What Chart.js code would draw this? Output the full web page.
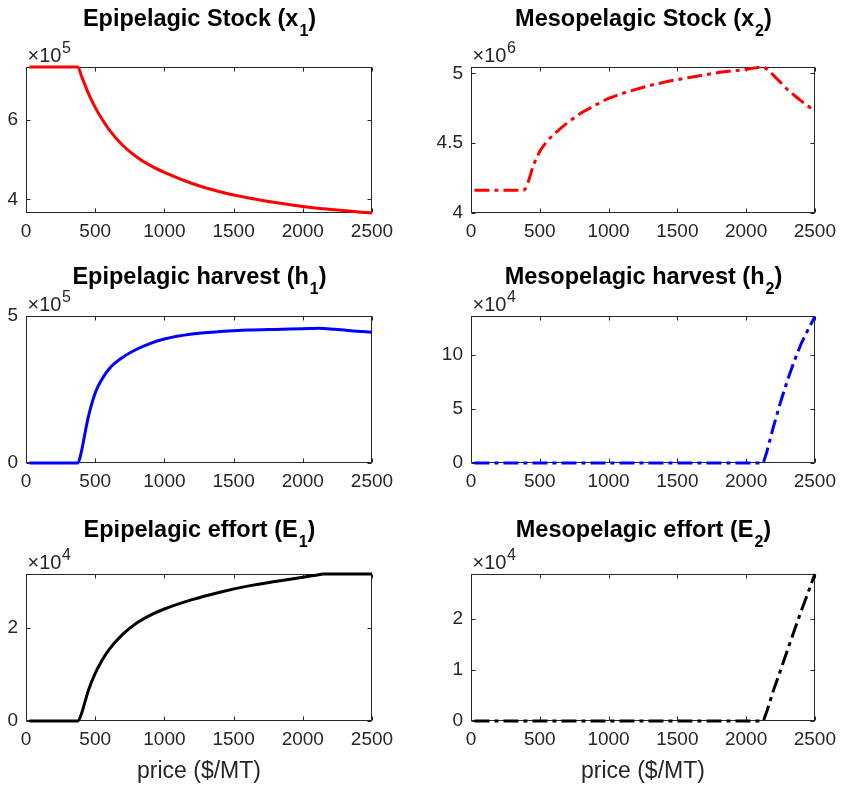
<!DOCTYPE html>
<html>
<head>
<meta charset="utf-8">
<title>Stocks, harvests and efforts vs price</title>
<script src="https://cdn.jsdelivr.net/npm/chart.js@4.4.1/dist/chart.umd.min.js"></script>
<style>
  body { margin: 0; background: #fff; }
  #fig { position: relative; width: 843px; height: 787px; background: #fff; }
  #fig canvas { position: absolute; }
</style>
</head>
<body>
<div id="fig"></div>
<script>
// price grid ($/MT)
const prices = [25, 100, 200, 300, 375, 400, 425, 450, 500, 550, 600, 700, 800, 900, 1000,
                1200, 1400, 1600, 1800, 2000, 2125, 2150, 2200, 2250, 2300, 2350, 2400, 2450, 2500];

// values, in units of each panel's multiplier
const stockEpi = [7.34, 7.34, 7.34, 7.34, 7.34, 7.12, 6.9, 6.68, 6.32, 6.02, 5.76, 5.36, 5.07, 4.85, 4.68,
                  4.4, 4.19, 4.04, 3.92, 3.82, 3.77, 3.762, 3.745, 3.73, 3.715, 3.7, 3.683, 3.67, 3.655]; // x10^5
const stockMeso = [4.162, 4.162, 4.162, 4.162, 4.162, 4.18, 4.25, 4.33, 4.44, 4.51, 4.56, 4.645, 4.715, 4.77, 4.82,
                   4.885, 4.935, 4.972, 5.005, 5.028, 5.045, 5.03, 4.985, 4.935, 4.885, 4.843, 4.803, 4.766, 4.73]; // x10^6
const harvestEpi = [0, 0, 0, 0, 0, 0.38, 0.98, 1.56, 2.38, 2.86, 3.2, 3.6, 3.87, 4.07, 4.22,
                    4.39, 4.47, 4.52, 4.545, 4.565, 4.58, 4.575, 4.56, 4.54, 4.52, 4.5, 4.48, 4.465, 4.45]; // x10^5
const harvestMeso = [0, 0, 0, 0, 0, 0, 0, 0, 0, 0, 0, 0, 0, 0, 0,
                     0, 0, 0, 0, 0, 0, 1.0, 3.4, 5.6, 7.6, 9.4, 11.0, 12.3, 13.5]; // x10^4
const effortEpi = [0, 0, 0, 0, 0, 0.15, 0.4, 0.65, 1.02, 1.3, 1.53, 1.86, 2.1, 2.27, 2.4,
                   2.6, 2.76, 2.89, 2.99, 3.08, 3.14, 3.15, 3.15, 3.15, 3.15, 3.15, 3.15, 3.15, 3.15]; // x10^4
const effortMeso = [0, 0, 0, 0, 0, 0, 0, 0, 0, 0, 0, 0, 0, 0, 0,
                    0, 0, 0, 0, 0, 0, 0.18, 0.61, 0.99, 1.38, 1.77, 2.15, 2.51, 2.88]; // x10^4

const xTicks = [0, 500, 1000, 1500, 2000, 2500];
const yTicksStockEpi = [4, 6];
const yTicksStockMeso = [4, 4.5, 5];
const yTicksHarvestEpi = [0, 5];
const yTicksHarvestMeso = [0, 5, 10];
const yTicksEffortEpi = [0, 2];
const yTicksEffortMeso = [0, 1, 2];

const FONT = '"Liberation Sans", Arial, Helvetica, sans-serif';
const AXIS = '#262626';
const DASHDOT = [15, 5, 4, 5];

// figure layout: column / row boxes and plot areas (page px)
const cols = [{ x: 0, w: 421, left: 26, right: 372 }, { x: 421, w: 422, left: 471, right: 819 }];
const rows = [
  { y: 0,   h: 260, top: 67,  bottom: 213, title: 26 },
  { y: 260, h: 260, top: 316, bottom: 463, title: 284 },
  { y: 520, h: 267, top: 574, bottom: 721, title: 537 }
];

const panels = [
  { col: 0, row: 0, title: ['Epipelagic Stock (x', '1', ')'], data: stockEpi, color: '#ff0000', dash: [],
    yMin: 3.655, yMax: 7.34, yTicks: yTicksStockEpi, exp: '5', smooth: true },
  { col: 1, row: 0, title: ['Mesopelagic Stock (x', '2', ')'], data: stockMeso, color: '#ff0000', dash: DASHDOT,
    yMin: 4, yMax: 5.045, yTicks: yTicksStockMeso, exp: '6', smooth: true },
  { col: 0, row: 1, title: ['Epipelagic harvest (h', '1', ')'], data: harvestEpi, color: '#0000ff', dash: [],
    yMin: 0, yMax: 5, yTicks: yTicksHarvestEpi, exp: '5', smooth: true },
  { col: 1, row: 1, title: ['Mesopelagic harvest (h', '2', ')'], data: harvestMeso, color: '#0000ff', dash: DASHDOT,
    yMin: 0, yMax: 13.56, yTicks: yTicksHarvestMeso, exp: '4', smooth: false },
  { col: 0, row: 2, title: ['Epipelagic effort (E', '1', ')'], data: effortEpi, color: '#000000', dash: [],
    yMin: 0, yMax: 3.15, yTicks: yTicksEffortEpi, exp: '4', smooth: true, xlabel: 'price ($/MT)' },
  { col: 1, row: 2, title: ['Mesopelagic effort (E', '2', ')'], data: effortMeso, color: '#000000', dash: DASHDOT,
    yMin: 0, yMax: 2.88, yTicks: yTicksEffortMeso, exp: '4', smooth: false, xlabel: 'price ($/MT)' }
];

// box, inward ticks, titles with subscripts, x10^n multipliers, x label
const matlabLook = {
  id: 'matlabLook',
  beforeDatasetsDraw(chart) {
    const { ctx, chartArea: a, scales: { x, y } } = chart;
    const L = Math.round(a.left) + 0.5, R = Math.round(a.right) - 0.5;
    const T = Math.round(a.top) + 0.5, B = Math.round(a.bottom) - 0.5;
    ctx.save();
    ctx.strokeStyle = AXIS;
    ctx.lineWidth = 1;
    ctx.strokeRect(L, T, R - L, B - T);
    ctx.beginPath();
    x.ticks.forEach(t => {
      const px = Math.round(x.getPixelForValue(t.value)) + 0.5;
      ctx.moveTo(px, B); ctx.lineTo(px, B - 4);
      ctx.moveTo(px, T); ctx.lineTo(px, T + 4);
    });
    y.ticks.forEach(t => {
      const py = Math.round(y.getPixelForValue(t.value)) + 0.5;
      ctx.moveTo(L, py); ctx.lineTo(L + 4, py);
      ctx.moveTo(R, py); ctx.lineTo(R - 4, py);
    });
    ctx.stroke();
    ctx.restore();
  },
  afterDraw(chart, args, opts) {
    const { ctx, chartArea: a } = chart;
    const cx = (a.left + a.right) / 2;
    ctx.save();
    ctx.textAlign = 'left';
    ctx.textBaseline = 'alphabetic';

    // title with subscript
    const big = 'bold 23.5px ' + FONT, small = 'bold 16px ' + FONT;
    const [t1, t2, t3] = opts.title;
    ctx.font = big;
    const w1 = ctx.measureText(t1).width, w3 = ctx.measureText(t3).width;
    ctx.font = small;
    const w2 = ctx.measureText(t2).width;
    const x0 = cx - (w1 + w2 + w3) / 2;
    ctx.fillStyle = '#000';
    ctx.font = big; ctx.fillText(t1, x0, opts.titleY);
    ctx.font = small; ctx.fillText(t2, x0 + w1 + 1, opts.titleY + 10);
    ctx.font = big; ctx.fillText(t3, x0 + w1 + w2 + 1, opts.titleY);

    // exponent label
    ctx.fillStyle = AXIS;
    ctx.font = '20px ' + FONT;
    const base = a.top - 5.5;
    const wm = ctx.measureText('\u00d710').width;
    ctx.fillText('\u00d710', a.left + 1.5, base);
    ctx.font = '16px ' + FONT;
    ctx.fillText(opts.exp, a.left + 1.5 + wm + 0.5, base - 9);

    // x label
    if (opts.xlabel) {
      ctx.font = '23px ' + FONT;
      ctx.textAlign = 'center';
      ctx.fillText(opts.xlabel, cx, opts.xlabelY);
    }
    ctx.restore();
  }
};

const fig = document.getElementById('fig');

panels.forEach(p => {
  const c = cols[p.col], r = rows[p.row];
  const canvas = document.createElement('canvas');
  canvas.width = c.w;
  canvas.height = r.h;
  canvas.style.left = c.x + 'px';
  canvas.style.top = r.y + 'px';
  canvas.style.width = c.w + 'px';
  canvas.style.height = r.h + 'px';
  fig.appendChild(canvas);

  const yAxisW = c.left - c.x;
  const xAxisH = r.y + r.h - r.bottom;

  new Chart(canvas, {
    type: 'line',
    data: {
      datasets: [{
        data: prices.map((px, i) => ({ x: px, y: p.data[i] })),
        borderColor: p.color,
        borderWidth: 3,
        borderDash: p.dash,
        pointRadius: 0,
        fill: false,
        clip: 6,
        tension: 0,
        cubicInterpolationMode: p.smooth ? 'monotone' : 'default'
      }]
    },
    options: {
      responsive: false,
      animation: false,
      devicePixelRatio: 1,
      layout: { padding: { top: r.top - r.y, right: c.x + c.w - c.right, left: 0, bottom: 0 } },
      plugins: {
        legend: { display: false },
        tooltip: { enabled: false },
        matlabLook: {
          title: p.title,
          titleY: r.title - r.y,
          exp: p.exp,
          xlabel: p.xlabel,
          xlabelY: 778 - r.y
        }
      },
      scales: {
        x: {
          type: 'linear',
          min: 0,
          max: 2500,
          grid: { display: false, drawTicks: false },
          border: { display: false },
          afterBuildTicks: axis => { axis.ticks = xTicks.map(v => ({ value: v })); },
          afterFit: axis => { axis.height = xAxisH; },
          ticks: {
            autoSkip: false,
            maxRotation: 0,
            padding: 7,
            color: AXIS,
            font: { family: FONT, size: 19 },
            callback: v => String(v)
          }
        },
        y: {
          type: 'linear',
          min: p.yMin,
          max: p.yMax,
          grid: { display: false, drawTicks: false },
          border: { display: false },
          afterBuildTicks: axis => { axis.ticks = p.yTicks.map(v => ({ value: v })); },
          afterFit: axis => { axis.width = yAxisW; },
          ticks: {
            padding: 8,
            color: AXIS,
            font: { family: FONT, size: 19 },
            callback: v => String(v)
          }
        }
      }
    },
    plugins: [matlabLook]
  });
});
</script>
</body>
</html>
